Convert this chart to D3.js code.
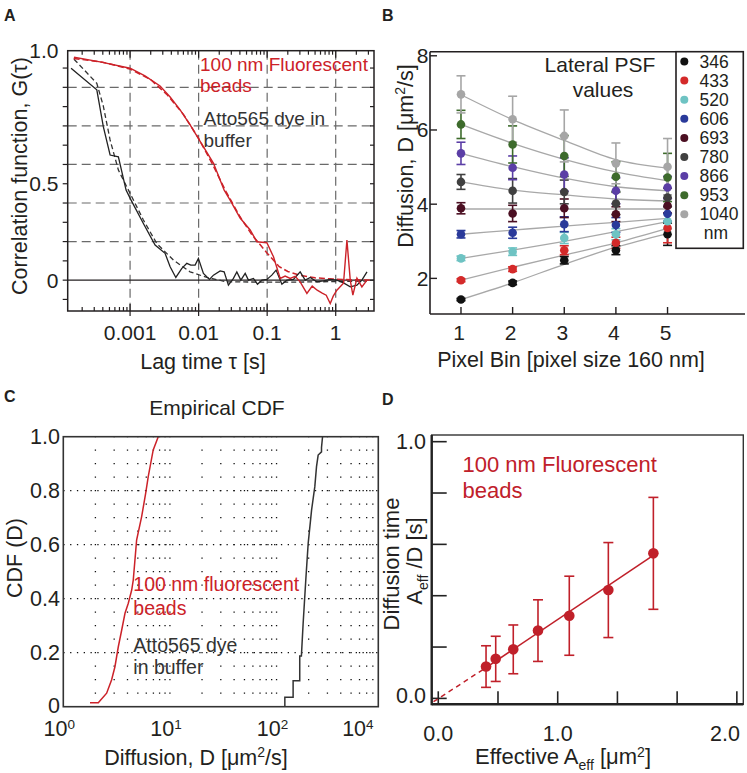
<!DOCTYPE html>
<html><head><meta charset="utf-8">
<script src="https://cdn.jsdelivr.net/npm/d3@7"></script>
<style>body{margin:0;background:#fff}svg text{font-family:"Liberation Sans",Arial,Helvetica,sans-serif}</style>
</head><body><svg id="c" width="747" height="773"></svg>
<script>
// ---------------- Panel A data ----------------
const aTauRed = [1.52e-4,3.65e-4,1e-3,1.65e-3,2.74e-3,3.84e-3,5.37e-3,7.52e-3,0.0102,0.0128,0.0165,0.022,0.0236,0.0288,0.0403,0.0565,0.0708,0.099,0.1237,0.155,0.183,0.217,0.256,0.303,0.38,0.454,0.537,0.635,0.727,0.832,0.92,1.04,1.30,1.458,1.63,1.78,2.04,2.41,2.86];
const aGRed = [1.156,1.132,1.099,1.059,1.007,0.950,0.883,0.805,0.727,0.670,0.606,0.493,0.467,0.415,0.322,0.260,0.199,0.194,0.121,0.009,0.021,0.009,0.020,-0.009,-0.069,-0.031,-0.052,-0.067,-0.078,-0.121,-0.083,-0.052,-0.016,0.208,0.000,-0.078,0.010,-0.035,0.000];
const aTauRedFit = [1.5e-4,4e-4,1e-3,2e-3,3.5e-3,6e-3,0.01,0.016,0.025,0.04,0.06,0.1,0.15,0.2,0.3,0.5,1,2,3.4];
const aGRedFit = [1.15,1.13,1.095,1.04,0.96,0.86,0.735,0.60,0.46,0.33,0.235,0.14,0.07,0.045,0.025,0.012,0.005,0.002,0.0];
const aTauBlack = [1.377e-4,3.27e-4,4.07e-4,5.11e-4,6.75e-4,8.74e-4,1.034e-3,1.564e-3,2.317e-3,3.24e-3,3.84e-3,4.65e-3,5.69e-3,6.73e-3,7.69e-3,8.89e-3,9.93e-3,0.01175,0.0144,0.01645,0.0206,0.02356,0.0272,0.0322,0.0361,0.0413,0.0478,0.0533,0.0631,0.0722,0.0837,0.099,0.117,0.135,0.164,0.194,0.242,0.303,0.359,0.425,0.532,0.664,0.832,1.04,1.30,1.63,2.04,2.41,2.86];
const aGBlack = [1.099,0.987,0.796,0.649,0.640,0.467,0.415,0.294,0.182,0.139,0.069,0.014,0.061,0.087,0.078,0.078,0.113,0.035,0.004,0.026,0.048,0.043,-0.026,0.009,0.043,0.000,0.035,0.000,0.009,-0.021,0.000,0.004,0.026,0.052,-0.021,0.000,0.004,0.043,0.000,0.014,-0.009,-0.004,0.004,0.000,-0.014,-0.035,-0.026,0.000,0.043];
const aTauBlackFit = [1.52e-4,3.27e-4,4.07e-4,5.11e-4,6.75e-4,1e-3,1.564e-3,2.45e-3,4.29e-3,7.5e-3,0.0132,0.0258,0.099,0.30,2.86];
const aGBlackFit = [1.146,1.021,0.903,0.727,0.571,0.45,0.312,0.19,0.104,0.043,0.014,-0.009,-0.010,-0.010,-0.005];
const aGridX = [0.001,0.01,0.1,1];
const aGridY = [0.2,0.4,0.6,0.8,1.0];
const aXTickVals = [0.001,0.01,0.1,1];
const aXTickText = ["0.001","0.01","0.1","1"];
const aYTickVals = [0,0.5,1.19];
const aYTickText = ["0","0.5","1.0"];

// ---------------- Panel B data ----------------
const bPixelBin = [1,2,3,4,5];
const bPsf = ["346","433","520","606","693","780","866","953","1040"];
const bD346 = [1.43,1.88,2.49,2.76,3.19];
const bD433 = [1.95,2.25,2.76,2.96,3.36];
const bD520 = [2.54,2.72,3.09,3.19,3.54];
const bD606 = [3.19,3.23,3.46,3.44,3.74];
const bD693 = [3.89,3.75,3.89,3.73,3.96];
const bD780 = [4.60,4.36,4.33,4.02,4.18];
const bD866 = [5.37,4.98,4.80,4.36,4.45];
const bD953 = [6.15,5.61,5.30,4.74,4.72];
const bD1040 = [6.96,6.29,5.84,5.10,5.01];
const bE346 = [0.03,0.05,0.10,0.12,0.30];
const bE433 = [0.04,0.06,0.12,0.15,0.40];
const bE520 = [0.06,0.10,0.15,0.15,0.20];
const bE606 = [0.10,0.15,0.20,0.20,0.20];
const bE693 = [0.15,0.22,0.25,0.20,0.20];
const bE780 = [0.20,0.33,0.32,0.30,0.25];
const bE866 = [0.30,0.32,0.45,0.35,0.30];
const bE953 = [0.38,0.50,0.55,0.40,0.65];
const bE1040 = [0.50,0.62,0.70,0.55,0.76];
const bF346 = [1.43,1.88,2.38,2.84,3.21];
const bF433 = [1.95,2.30,2.63,2.96,3.35];
const bF520 = [2.54,2.76,3.00,3.26,3.53];
const bF606 = [3.19,3.30,3.41,3.51,3.62];
const bF693 = [3.87,3.87,3.87,3.87,3.87];
const bF780 = [4.60,4.38,4.25,4.14,4.09];
const bF866 = [5.37,5.01,4.70,4.47,4.36];
const bF953 = [6.15,5.64,5.21,4.87,4.63];
const bF1040 = [6.95,6.28,5.72,5.20,4.97];
const bYTicks = [2,4,6,8];

// ---------------- Panel C data ----------------
const cRedD = [1.78,2.13,2.21,2.55,2.84,3.05,3.28,3.53,3.79,4.07,4.38,4.53,4.87,5.43,5.92,6.26,6.97,7.77];
const cRedF = [0.015,0.015,0.022,0.05,0.10,0.148,0.222,0.284,0.346,0.383,0.432,0.469,0.617,0.704,0.79,0.852,0.951,1.0];
const cBlackD = [119.6,119.6,143,143,165,165,171,177.6,188,198,213,228.5,237,245.6,264,264,270];
const cBlackF = [0,0.035,0.035,0.096,0.096,0.188,0.188,0.309,0.469,0.605,0.728,0.815,0.889,0.932,0.944,0.96,1.0];
const cXTickVals = [1,10,100,631];
const cXTickExp = ["0","1","2","4"];
const cYTicks = [0,0.2,0.4,0.6,0.8,1.0];
const cYTickText = ["0","0.2","0.4","0.6","0.8","1.0"];

// ---------------- Panel D data ----------------
const dArea = [0.400,0.481,0.628,0.835,1.097,1.424,1.801];
const dTime = [0.124,0.154,0.191,0.264,0.322,0.422,0.565];
const dErr = [0.081,0.088,0.095,0.120,0.154,0.185,0.218];
const dFitX = [-0.04,0.40,1.80];
const dFitY = [-0.013,0.120,0.557];
const dYTicks = [0,0.2,0.4,0.6,0.8,1.0];
const dXTicks = [0,0.5,1.0,1.5,2.0,2.5];
const dXLabelVals = [0,1.0,2.4];
const dXLabelText = ["0.0","1.0","2.0"];

// ---------------- styles ----------------
const INK = "#231f20";
const RED = "#cc2229";
const DRED = "#c0202a";
const bColors = ["#111111","#d42a2a","#6ec3c3","#2a3a9a","#4b0f22","#404040","#5b3ea6","#3d6b2c","#a6a6a6"];

const svg = d3.select("#c");
function text(g, x, y, s, size, opt = {}) {
  const t = g.append("text").attr("x", x).attr("y", y).attr("font-size", size)
    .attr("fill", opt.fill || INK).attr("text-anchor", opt.anchor || "start")
    .attr("font-weight", opt.weight || "normal");
  if (opt.rotate) t.attr("transform", `rotate(-90,${x},${y})`);
  t.text(s);
  return t;
}
function line(g, x1, y1, x2, y2, w, col, dash) {
  const l = g.append("line").attr("x1", x1).attr("y1", y1).attr("x2", x2).attr("y2", y2)
    .attr("stroke", col || INK).attr("stroke-width", w || 1);
  if (dash) l.attr("stroke-dasharray", dash);
  return l;
}

// panel letters
text(svg, 4, 21, "A", 16, {weight: "bold"});
text(svg, 382, 21, "B", 16, {weight: "bold"});
text(svg, 4, 402, "C", 16, {weight: "bold"});
text(svg, 382, 405, "D", 16, {weight: "bold"});

// ================= Panel A =================
{
  const g = svg.append("g");
  const x = d3.scaleLog().domain([1.23e-4, 3.62]).range([67.7, 374]);
  const y = d3.scaleLinear().domain([-0.16, 1.19]).range([311, 50.7]);
  const [x0, x1] = x.range(), [y0, y1] = y.range();
  g.selectAll(".gx").data(aGridX).join("line")
    .attr("x1", d => x(d)).attr("x2", d => x(d)).attr("y1", y1).attr("y2", y0)
    .attr("stroke", "#6a6a6a").attr("stroke-width", 1.2).attr("stroke-dasharray", "9,5");
  g.selectAll(".gy").data(aGridY).join("line")
    .attr("x1", x0).attr("x2", x1).attr("y1", d => y(d)).attr("y2", d => y(d))
    .attr("stroke", "#6a6a6a").attr("stroke-width", 1.2).attr("stroke-dasharray", "9,5");
  line(g, x0, y(0), x1, y(0), 1.3, INK);
  const ln = d3.line().x(d => x(d[0])).y(d => y(d[1]));
  g.append("path").datum(d3.zip(aTauBlackFit, aGBlackFit)).attr("d", ln).attr("fill", "none")
    .attr("stroke", "#333").attr("stroke-width", 1.3).attr("stroke-dasharray", "5,3");
  g.append("path").datum(d3.zip(aTauRedFit, aGRedFit)).attr("d", ln).attr("fill", "none")
    .attr("stroke", RED).attr("stroke-width", 1.5).attr("stroke-dasharray", "6,3");
  g.append("path").datum(d3.zip(aTauBlack, aGBlack)).attr("d", ln).attr("fill", "none")
    .attr("stroke", "#222").attr("stroke-width", 1.3);
  g.append("path").datum(d3.zip(aTauRed, aGRed)).attr("d", ln).attr("fill", "none")
    .attr("stroke", RED).attr("stroke-width", 1.4);
  g.append("rect").attr("x", x0).attr("y", y1).attr("width", x1 - x0).attr("height", y0 - y1)
    .attr("fill", "none").attr("stroke", INK).attr("stroke-width", 1.5);
  const lt = [];
  for (let k = -4; k <= 0; k++) for (let m = 1; m <= 9; m++) {
    const v = m * Math.pow(10, k);
    if (v >= x.domain()[0] && v <= x.domain()[1]) lt.push({v, major: m === 1});
  }
  lt.forEach(t => {
    const px = x(t.v);
    line(g, px, y1, px, y1 + (t.major ? 7 : 4), 1.2);
    line(g, px, y0, px, y0 - (t.major ? 7 : 4), 1.2);
    if (t.major) line(g, px, y0, px, y0 + 5, 1.2);
  });
  d3.range(-0.1, 1.15, 0.1).forEach(v => {
    line(g, x0 - 5, y(v), x0, y(v), 1.2);
    line(g, x1 - 4, y(v), x1, y(v), 1.2);
  });
  aYTickVals.forEach((v, i) => text(g, 58.5, y(v) + 7.5, aYTickText[i], 21, {anchor: "end"}));
  aXTickVals.forEach((v, i) => text(g, x(v), 340, aXTickText[i], 21, {anchor: "middle"}));
  text(g, 203, 369, "Lag time τ [s]", 21.5, {anchor: "middle"});
  text(g, 27, 176, "Correlation function, G(τ)", 21.5, {anchor: "middle", rotate: true});
  text(g, 200, 71, "100 nm Fluorescent", 19, {fill: RED});
  text(g, 200, 91.5, "beads", 19, {fill: RED});
  text(g, 203.5, 125, "Atto565 dye in", 19, {fill: "#333"});
  text(g, 203.5, 146.5, "buffer", 19, {fill: "#333"});
}

// ================= Panel B =================
{
  const g = svg.append("g");
  const x = d3.scaleLinear().domain([0.4, 6.5]).range([430, 745]);
  const y = d3.scaleLinear().domain([1.04, 8.11]).range([314, 51.7]);
  const [x0, x1] = x.range(), [y0, y1] = y.range();
  const D = [bD346,bD433,bD520,bD606,bD693,bD780,bD866,bD953,bD1040];
  const E = [bE346,bE433,bE520,bE606,bE693,bE780,bE866,bE953,bE1040];
  const F = [bF346,bF433,bF520,bF606,bF693,bF780,bF866,bF953,bF1040];
  const ln = d3.line().x(d => x(d[0])).y(d => y(d[1])).curve(d3.curveMonotoneX);
  F.forEach(f => g.append("path").datum(d3.zip(bPixelBin, f)).attr("d", ln)
    .attr("fill", "none").attr("stroke", "#a8a8a8").attr("stroke-width", 1.3));
  D.forEach((ser, s) => {
    ser.forEach((v, i) => {
      const px = x(bPixelBin[i]), e = E[s][i];
      const c = bColors[s];
      line(g, px, y(v - e), px, y(v + e), 1.6, c);
      line(g, px - 4.5, y(v - e), px + 4.5, y(v - e), 1.6, c);
      line(g, px - 4.5, y(v + e), px + 4.5, y(v + e), 1.6, c);
    });
  });
  D.forEach((ser, s) => {
    g.selectAll(null).data(ser).join("circle")
      .attr("cx", (d, i) => x(bPixelBin[i])).attr("cy", d => y(d)).attr("r", 4.3)
      .attr("fill", bColors[s]);
  });
  line(g, x0, y1, x0, y0, 1.6);
  line(g, x0, y0, x1, y0, 1.6);
  line(g, x0, y1, 676, y1, 1.6);
  bYTicks.forEach(v => {
    line(g, x0, y(v), x0 + 7, y(v), 1.4);
    text(g, 428.5, y(v) + 7.5, String(v), 21, {anchor: "end"});
  });
  bPixelBin.forEach(v => {
    line(g, x(v), y0, x(v), y0 - 7, 1.4);
    text(g, x(v) - 2, 340, String(v), 21, {anchor: "middle"});
  });
  text(g, 571, 367, "Pixel Bin [pixel size 160 nm]", 21.5, {anchor: "middle"});
  const yl = text(g, 413, 156, "", 21.5, {anchor: "middle", rotate: true});
  yl.append("tspan").text("Diffusion, D [μm");
  yl.append("tspan").attr("font-size", 14).attr("dy", -8).text("2");
  yl.append("tspan").attr("dy", 8).text("/s]");
  text(g, 600, 71.5, "Lateral PSF", 21, {anchor: "middle"});
  text(g, 603, 96.5, "values", 21, {anchor: "middle"});
  g.append("rect").attr("x", 676).attr("y", y1).attr("width", 67.3).attr("height", 196.6)
    .attr("fill", "#fff").attr("stroke", INK).attr("stroke-width", 1.6);
  bPsf.forEach((p, i) => {
    const cy = 61.5 + i * 19.1;
    g.append("circle").attr("cx", 684.3).attr("cy", cy).attr("r", 4).attr("fill", bColors[i]);
    text(g, 699.5, cy + 6, p, 17.5);
  });
  text(g, 716, 233.4 + 6, "nm", 17.5, {anchor: "middle"});
}

// ================= Panel C =================
{
  const g = svg.append("g");
  const x = d3.scaleLog().domain([1, 900]).range([63.3, 378.3]);
  const y = d3.scaleLinear().domain([0, 1]).range([706.7, 436.7]);
  const [x0, x1] = x.range(), [y0, y1] = y.range();
  const step = (y0 - y1) / 20;
  const minor = [];
  for (let k = 0; k <= 2; k++) for (let m = 1; m <= 9; m++) {
    const v = m * Math.pow(10, k);
    if (v > 1 && v < 900) minor.push(v);
  }
  g.selectAll(".vg").data(minor).join("line")
    .attr("x1", d => x(d)).attr("x2", d => x(d)).attr("y1", y0).attr("y2", y1)
    .attr("stroke", "#111").attr("stroke-width", 1.3)
    .attr("stroke-dasharray", `1.3,${(step - 1.3).toFixed(2)}`).attr("stroke-dashoffset", -step + 0.65);
  g.selectAll(".hg").data([0.2,0.4,0.6,0.8]).join("line")
    .attr("x1", x0).attr("x2", x1).attr("y1", d => y(d)).attr("y2", d => y(d))
    .attr("stroke", "#111").attr("stroke-width", 1.3).attr("stroke-dasharray", "1.3,5.5");
  const ln = d3.line().x(d => x(d[0])).y(d => y(d[1]));
  g.append("path").datum(d3.zip(cRedD, cRedF)).attr("d", ln).attr("fill", "none")
    .attr("stroke", RED).attr("stroke-width", 1.5);
  g.append("path").datum(d3.zip(cBlackD, cBlackF)).attr("d", ln).attr("fill", "none")
    .attr("stroke", "#333").attr("stroke-width", 1.5);
  g.append("rect").attr("x", x0).attr("y", y1).attr("width", x1 - x0).attr("height", y0 - y1)
    .attr("fill", "none").attr("stroke", "#333").attr("stroke-width", 1.6);
  cYTicks.forEach((v, i) => text(g, 60, y(v) + (v === 0 ? 6.5 : 7.5), cYTickText[i], 21.5, {anchor: "end"}));
  cXTickVals.forEach((v, i) => {
    const t = text(g, x(v) - 4, 736, "10", 21.5, {anchor: "middle"});
    t.append("tspan").attr("font-size", 13.5).attr("dy", -7.5).text(cXTickExp[i]);
  });
  const xl = text(g, 196, 765, "Diffusion, D [μm", 21.5, {anchor: "middle"});
  xl.append("tspan").attr("font-size", 14).attr("dy", -8).text("2");
  xl.append("tspan").attr("dy", 8).text("/s]");
  text(g, 217, 415, "Empirical CDF", 21, {anchor: "middle"});
  text(g, 22, 558, "CDF (D)", 21.5, {anchor: "middle", rotate: true});
  text(g, 133.3, 591, "100 nm fluorescent", 19.5, {fill: RED});
  text(g, 133.3, 615, "beads", 19.5, {fill: RED});
  text(g, 133.3, 651.5, "Atto565 dye", 19.5, {fill: "#333"});
  text(g, 133.3, 673.5, "in buffer", 19.5, {fill: "#333"});
}

// ================= Panel D =================
{
  const g = svg.append("g");
  const x = d3.scaleLinear().domain([-0.055, 2.554]).range([431.7, 743.3]);
  const y = d3.scaleLinear().domain([-0.023, 1.026]).range([704.3, 435]);
  const [x0, x1] = x.range(), [y0, y1] = y.range();
  g.append("rect").attr("x", x0).attr("y", y1).attr("width", x1 - x0).attr("height", y0 - y1)
    .attr("fill", "none").attr("stroke", "#333").attr("stroke-width", 1.4);
  line(g, x0, y1, x0, y0 + 1, 2.4, "#222");
  line(g, x0, y0, x1, y0, 2.6, "#222");
  dYTicks.forEach(v => line(g, x0, y(v), x0 + 15, y(v), 1.6, "#222"));
  dXTicks.forEach(v => line(g, x(v), y0, x(v), y0 - 13, 1.6, "#222"));
  text(g, 426, y(1.0) + 7.5, "1.0", 21.5, {anchor: "end"});
  text(g, 426, y(0.0) + 4.5, "0.0", 21.5, {anchor: "end"});
  dXLabelVals.forEach((v, i) => text(g, x(v), 740.5, dXLabelText[i], 21.5, {anchor: "middle"}));
  line(g, x(dFitX[0]), y(dFitY[0]), x(dFitX[1]), y(dFitY[1]), 1.5, DRED, "5,4");
  line(g, x(dFitX[1]), y(dFitY[1]), x(dFitX[2]), y(dFitY[2]), 1.6, DRED);
  dArea.forEach((a, i) => {
    const px = x(a), v = dTime[i], e = dErr[i];
    line(g, px, y(v - e), px, y(v + e), 1.6, DRED);
    line(g, px - 5, y(v - e), px + 5, y(v - e), 1.6, DRED);
    line(g, px - 5, y(v + e), px + 5, y(v + e), 1.6, DRED);
  });
  g.selectAll(".pt").data(dArea).join("circle").attr("cx", d => x(d))
    .attr("cy", (d, i) => y(dTime[i])).attr("r", 5.3).attr("fill", DRED);
  text(g, 462.5, 471.5, "100 nm Fluorescent", 22, {fill: DRED});
  text(g, 462.5, 498, "beads", 22, {fill: DRED});
  const xl = text(g, 563, 764, "Effective A", 22, {anchor: "middle"});
  xl.append("tspan").attr("font-size", 14).attr("dy", 6).text("eff");
  xl.append("tspan").attr("dy", -6).text(" [μm");
  xl.append("tspan").attr("font-size", 14).attr("dy", -7).text("2");
  xl.append("tspan").attr("dy", 7).text("]");
  text(g, 399, 564, "Diffusion time", 22, {anchor: "middle", rotate: true});
  const l2 = text(g, 422, 561, "A", 22, {anchor: "middle", rotate: true});
  l2.append("tspan").attr("font-size", 14).attr("dy", 6).text("eff");
  l2.append("tspan").attr("dy", -6).text(" /D [s]");
}
</script></body></html>
